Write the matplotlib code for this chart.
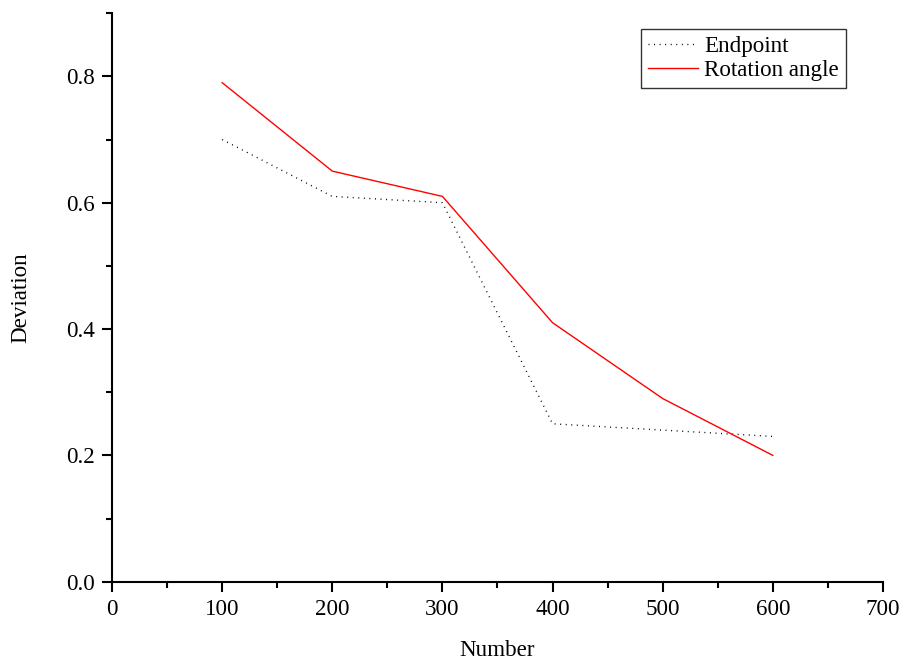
import numpy as np
import matplotlib
matplotlib.use('Agg')
from matplotlib import pyplot as plt
from matplotlib.ticker import MultipleLocator

plt.rcParams['font.family'] = 'Liberation Serif'

# data
number = [100, 200, 300, 400, 500, 600]
endpoint = [0.70, 0.61, 0.60, 0.25, 0.24, 0.23]
rotation = [0.79, 0.65, 0.61, 0.41, 0.29, 0.20]

fig = plt.figure(figsize=(9.02, 6.60), dpi=100)
ax = fig.add_axes([0.1242, 0.1186, 0.9789 - 0.1242, 0.980 - 0.1186])

ax.plot(number, endpoint, c='black', lw=1.0, dashes=(0.7, 3.3), label='Endpoint')
ax.plot(number, rotation, '-', c='red', lw=1.0, label='Rotation angle')

ax.set_xlim(0, 700)
ax.set_ylim(0, 0.9)
ax.xaxis.set_major_locator(MultipleLocator(100))
ax.xaxis.set_minor_locator(MultipleLocator(50))
ax.yaxis.set_major_locator(MultipleLocator(0.2))
ax.yaxis.set_minor_locator(MultipleLocator(0.1))
ax.yaxis.set_major_formatter(plt.FormatStrFormatter('%.1f'))

for s in ['top', 'right']:
    ax.spines[s].set_visible(False)
for s in ['left', 'bottom']:
    ax.spines[s].set_linewidth(1.5)

fs = 16.6
ax.tick_params(which='major', direction='out', length=7.5, width=1.5,
               labelsize=fs, pad=5)
ax.tick_params(which='minor', direction='out', length=4, width=1.5)

ax.set_xlabel('Number', fontsize=fs, labelpad=14)
ax.set_ylabel('Deviation', fontsize=fs, labelpad=25)

leg = ax.legend(loc='upper right', bbox_to_anchor=(0.952, 0.972), fontsize=fs,
                frameon=True, fancybox=False, edgecolor='black',
                handlelength=2.2, handletextpad=0.26, borderpad=0.3,
                labelspacing=0.12, borderaxespad=0)
leg.get_frame().set_linewidth(1.0)

fig.savefig('out.png', dpi=100)
